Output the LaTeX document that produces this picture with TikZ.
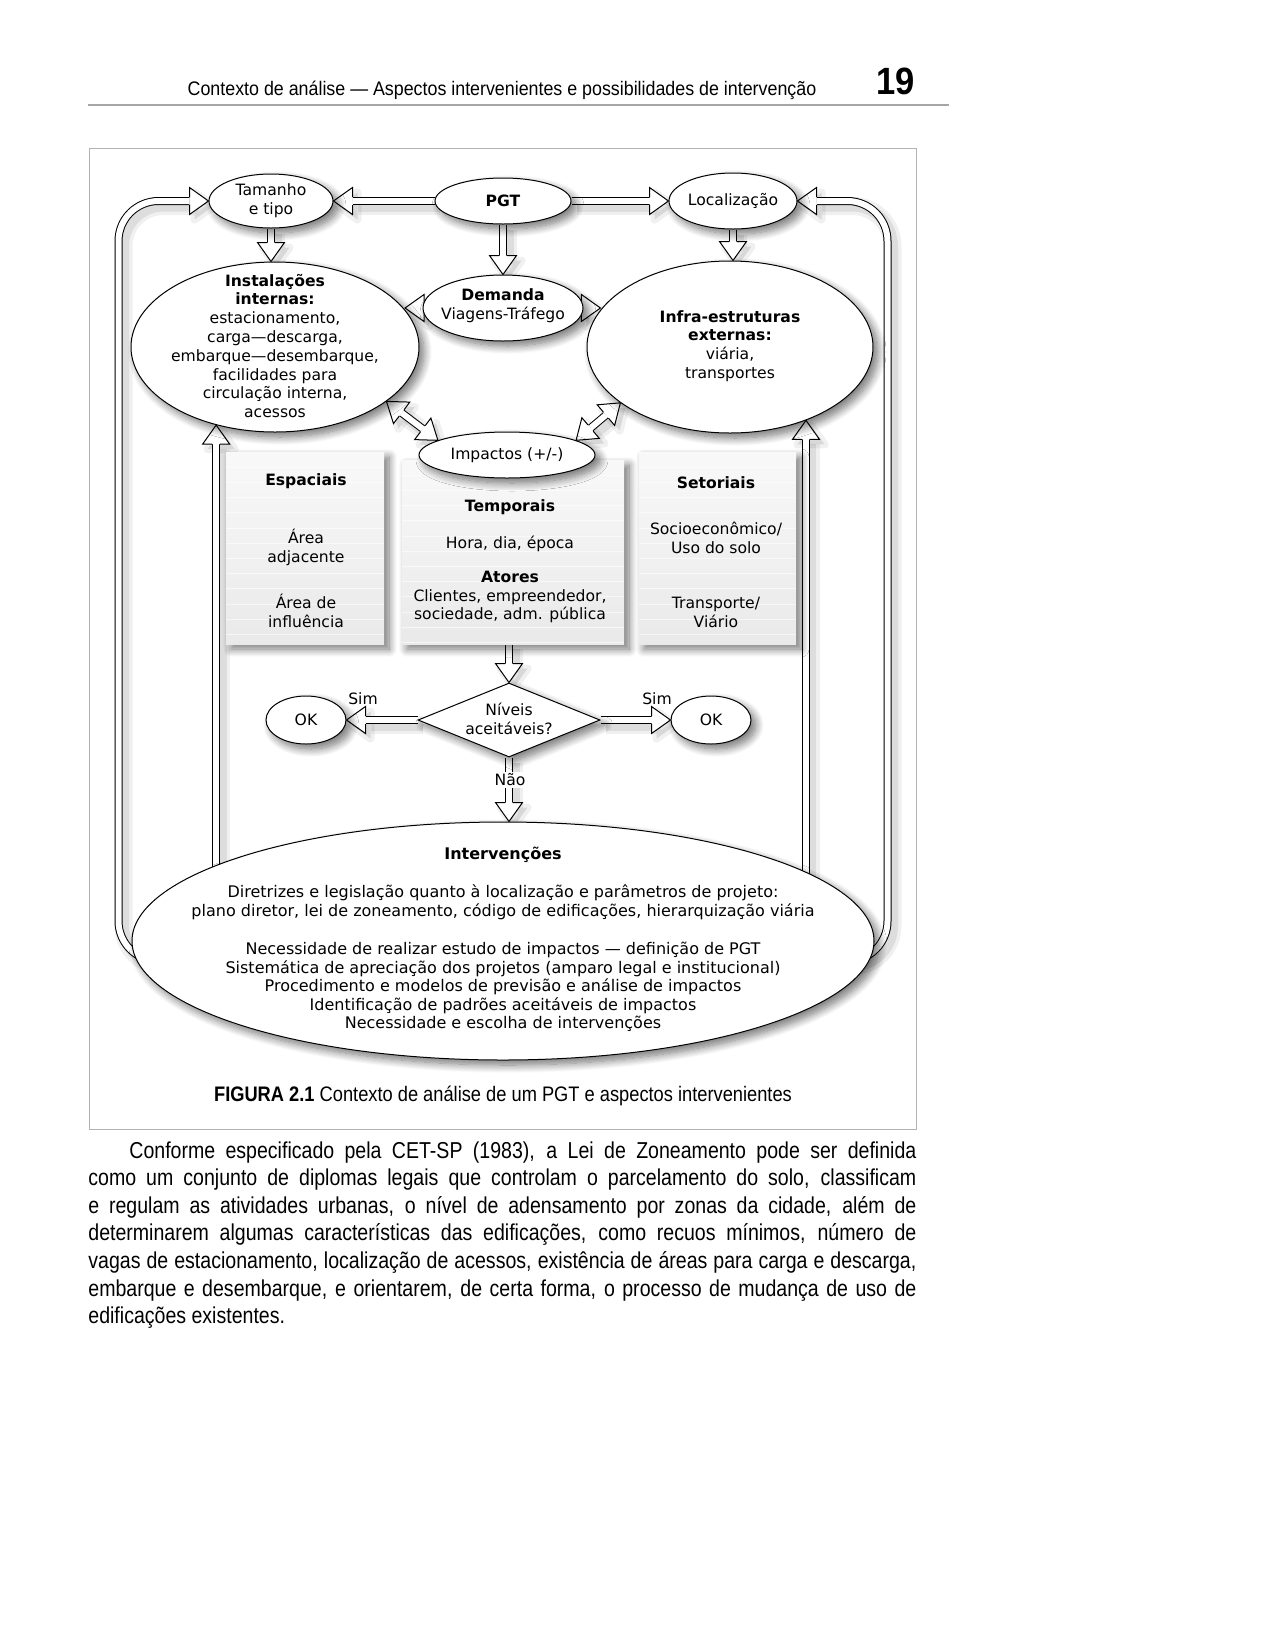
\documentclass[tikz,border=0pt]{standalone}
\usepackage{fontspec}
\usetikzlibrary{shapes.geometric,calc,shadows.blur}
\newfontfamily\dv{DejaVu Sans}
\newfontfamily\hf[FakeStretch=0.91]{Liberation Sans}
\newfontfamily\hfb[FakeStretch=0.87]{Liberation Sans}
\newfontfamily\hfc[FakeStretch=0.85]{Liberation Sans}
\pgfdeclarelayer{shd}
\pgfdeclarelayer{bg}
\pgfsetlayers{shd,bg,main}
\newcommand\ahl{9.5pt}
\newcommand\ahw{6.75pt}
\newcommand\asw{2pt}
\tikzset{
 nshadow/.style={blur shadow={shadow xshift=2.5pt,shadow yshift=-2.5pt,shadow blur radius=4pt,shadow blur steps=12,shadow opacity=55}},
 ell/.style={ellipse,draw,fill=white,line width=0.5pt,inner sep=0pt,nshadow},
 dia/.style={diamond,draw,fill=white,line width=0.5pt,inner sep=0pt,nshadow},
 box/.style={rectangle,inner sep=0pt,top color=gray!5,bottom color=gray!17,nshadow,
   path picture={\foreach \k in {1,...,13}{\draw[white,opacity=.6,line width=0.5pt]
     ([yshift=-\k*7.6pt]path picture bounding box.north west) -- ([yshift=-\k*7.6pt]path picture bounding box.north east);}}},
 txt/.style={font=\dv\fontsize{7.8}{9.4}\selectfont,align=center,inner sep=0pt},
 itxt/.style={font=\dv\fontsize{8}{9.3}\selectfont,align=center,inner sep=0pt},
 shaft/.style={draw=black,line width=0.5pt,double=white,double distance=3pt},
 head/.style={draw=black,fill=white,line width=0.5pt,line join=miter},
 ashd/.style={draw=black,opacity=#1,transform canvas={shift={(2.5pt,-2.5pt)}}},
}
\newcommand\sshadow[1]{\begin{pgfonlayer}{shd}
 \draw[ashd=.06,line width=9pt] #1; \draw[ashd=.08,line width=5.5pt] #1;
 \end{pgfonlayer}}
\newcommand\ahead[2]{%
 \coordinate (h1) at ($(#1)!\asw!90:(#2)$);
 \coordinate (h2) at ($(#1)!\ahw!90:(#2)$);
 \coordinate (h3) at ($(#1)!\ahw!-90:(#2)$);
 \coordinate (h4) at ($(#1)!\asw!-90:(#2)$);
 \begin{pgfonlayer}{shd}
 \fill[black,opacity=.10,transform canvas={shift={(2.5pt,-2.5pt)}}] (h2)--(#2)--(h3)--cycle;
 \draw[black,opacity=.06,line width=4pt,line join=round,transform canvas={shift={(2.5pt,-2.5pt)}}] (h2)--(#2)--(h3)--cycle;
 \end{pgfonlayer}
 \begin{pgfonlayer}{bg}
 \filldraw[head] (h1)--(h2)--(#2)--(h3)--(h4);
 \end{pgfonlayer}}
\newcommand\barrow[2]{%
 \path (#1) coordinate (aA) (#2) coordinate (aB);
 \coordinate (aH) at ($(aB)!\ahl!(aA)$);
 \sshadow{(aA)--(aH)}
 \begin{pgfonlayer}{bg}\draw[shaft] (aA)--(aH);\end{pgfonlayer}
 \ahead{aH}{aB}}
\newcommand\dbarrow[2]{%
 \path (#1) coordinate (dA) (#2) coordinate (dB);
 \coordinate (dH) at ($(dB)!\ahl!(dA)$);
 \coordinate (dG) at ($(dA)!\ahl!(dB)$);
 \sshadow{(dG)--(dH)}
 \begin{pgfonlayer}{bg}\draw[shaft] (dG)--(dH);\end{pgfonlayer}
 \ahead{dH}{dB}\ahead{dG}{dA}}
\begin{document}
\begin{tikzpicture}[x=0.5pt,y=-0.5pt]
\useasboundingbox (0,0) rectangle (1275,1650);
% header
\node[font=\hf\fontsize{9.8}{11}\selectfont,anchor=base,inner sep=0pt] (head) at (502,95) {Contexto de análise — Aspectos intervenientes e possibilidades de intervenção};
\node[font=\hf\bfseries\fontsize{19}{20}\selectfont,anchor=base east,inner sep=0pt] (pg) at (915,94) {19};
\draw[gray!70,line width=0.6pt] (88,105) -- (949,105);
% frame
\draw[gray!60,line width=0.5pt] (89,148) rectangle (916,1129);
% boxes
\node[box,minimum width=79pt,minimum height=96pt] (esp) at (305,548) {};
\node[box,minimum width=111pt,minimum height=92pt] (temp) at (513,552) {};
\node[box,minimum width=78.5pt,minimum height=96pt] (set) at (717.5,548) {};
\node[txt,font=\dv\bfseries\fontsize{7.8}{9.4}\selectfont] (espt) at (306,481) {Espaciais};
\node[txt] (esp1) at (306,547) {Área\\adjacente};
\node[txt] (esp2) at (306,611) {Área de\\influência};
\node[txt,font=\dv\bfseries\fontsize{7.8}{9.4}\selectfont] (tempt) at (510,507) {Temporais};
\node[txt] (temp1) at (510,544) {Hora, dia, época};
\node[txt] (temp2) at (510,597) {\textbf{Atores}\\Clientes, empreendedor,\\sociedade, adm. pública};
\node[txt,font=\dv\bfseries\fontsize{7.8}{9.4}\selectfont] (sett) at (716,483) {Setoriais};
\node[txt] (set1) at (716,537.5) {Socioeconômico/\\Uso do solo};
\node[txt] (set2) at (716,612.5) {Transporte/\\Viário};
% ellipses
\node[ell,minimum width=62pt,minimum height=27pt] (tam) at (271,201) {};
\node[txt] (tamt) at (tam.center) {Tamanho\\e tipo};
\node[ell,minimum width=68pt,minimum height=23pt] (pgt) at (503,201) {};
\node[txt] (pgtt) at (pgt.center) {\textbf{PGT}};
\node[ell,minimum width=64pt,minimum height=28pt] (loc) at (733,201) {};
\node[txt] (loct) at (loc.center) {Localização};
\node[ell,minimum width=144pt,minimum height=85pt] (inst) at (275,347) {};
\node[txt] (instt) at (275,346) {\textbf{Instalações}\\\textbf{internas:}\\estacionamento,\\carga—descarga,\\embarque—desembarque,\\facilidades para\\circulação interna,\\acessos};
\node[ell,minimum width=80pt,minimum height=33pt] (dem) at (503,308) {};
\node[txt] (demt) at (503,306) {\textbf{Demanda}\\Viagens-Tráfego};
\node[ell,minimum width=143pt,minimum height=86pt] (infra) at (730,347) {};
\node[txt] (infrat) at (730,346) {\textbf{Infra-estruturas}\\\textbf{externas:}\\viária,\\transportes};
\node[ell,minimum width=88pt,minimum height=23pt] (imp) at (507,455) {};
\node[txt] (impt) at (imp.center) {Impactos (+/-)};
\node[dia,minimum width=91pt,minimum height=37pt] (niv) at (509,720) {};
\node[txt] (nivt) at (509,719) {Níveis\\aceitáveis?};
\node[ell,minimum width=40pt,minimum height=24pt] (okl) at (306,720) {};
\node[txt] (oklt) at (okl.center) {OK};
\node[ell,minimum width=40pt,minimum height=24pt] (okr) at (711,720) {};
\node[txt] (okrt) at (okr.center) {OK};
\node[ell,minimum width=371pt,minimum height=119pt] (interv) at (503,941) {};
\node[itxt,font=\dv\bfseries\fontsize{8}{9.3}\selectfont] (intt) at (503,855) {Intervenções};
\node[itxt] (int1) at (503,902.5) {Diretrizes e legislação quanto à localização e parâmetros de projeto:\\plano diretor, lei de zoneamento, código de edificações, hierarquização viária};
\node[itxt] (int2) at (503,987) {Necessidade de realizar estudo de impactos — definição de PGT\\Sistemática de apreciação dos projetos (amparo legal e institucional)\\Procedimento e modelos de previsão e análise de impactos\\Identificação de padrões aceitáveis de impactos\\Necessidade e escolha de intervenções};
% labels
\node[txt] (siml) at (363,699) {Sim};
\node[txt] (simr) at (657,699) {Sim};
\node[txt,fill=white,inner sep=1pt] (nao) at (510,780) {Não};
% arrows
\barrow{pgt.west}{pgt.west -| tam.east}
\barrow{pgt.east}{pgt.east -| loc.west}
\barrow{pgt.south}{pgt.south |- dem.north}
\barrow{tam.south}{tam.south |- inst.north}
\barrow{loc.south}{loc.south |- infra.north}
\barrow{dem.west}{dem.west -| inst.16}
\barrow{dem.east}{dem.east -| infra.164}
\dbarrow{inst.-26}{imp.168}
\dbarrow{infra.-153}{imp.12}
\barrow{niv.north |- temp.south}{niv.north}
\barrow{niv.west}{okl.east}
\barrow{niv.east}{okr.west}
\barrow{niv.south}{niv.south |- interv.north}
\barrow{inst.-127 |- interv.172}{inst.-127}
\barrow{infra.-44 |- interv.8}{infra.-44}
% outer loops
\coordinate (lA) at ($(interv.west)+(30,20)$);
\coordinate (lP) at ($(tam.west)+(-90,0)$);
\coordinate (lH) at ($(tam.west)+(-19,0)$);
\sshadow{[rounded corners=20pt] (lA) -| (lP) -- (lH)}
\begin{pgfonlayer}{bg}\draw[shaft,rounded corners=20pt] (lA) -| (lP) -- (lH);\end{pgfonlayer}
\ahead{lH}{tam.west}
\coordinate (rA) at ($(interv.east)+(-30,20)$);
\coordinate (rP) at ($(loc.east)+(90,0)$);
\coordinate (rH) at ($(loc.east)+(19,0)$);
\sshadow{[rounded corners=20pt] (rA) -| (rP) -- (rH)}
\begin{pgfonlayer}{bg}\draw[shaft,rounded corners=20pt] (rA) -| (rP) -- (rH);\end{pgfonlayer}
\ahead{rH}{loc.east}
% caption
\node[font=\hfb\fontsize{10.5}{12}\selectfont,anchor=base,inner sep=0pt] (cap) at (503,1101) {\textbf{FIGURA 2.1} Contexto de análise de um PGT e aspectos intervenientes};
% body text
\node[anchor=north west,inner sep=0pt,text width=414pt,align=justify,font=\hfc\fontsize{11.5}{13.8}\selectfont] (body) at (88,1141) {\hspace*{20.5pt}Conforme especificado pela CET-SP (1983), a Lei de Zoneamento pode ser definida\linebreak como um conjunto de diplomas legais que controlam o parcelamento do solo, classificam\linebreak e regulam as atividades urbanas, o nível de adensamento por zonas da cidade, além de\linebreak determinarem algumas características das edificações, como recuos mínimos, número de\linebreak vagas de estacionamento, localização de acessos, existência de áreas para carga e descarga,\linebreak embarque e desembarque, e orientarem, de certa forma, o processo de mudança de uso de\linebreak edificações existentes.};
\end{tikzpicture}
\end{document}
